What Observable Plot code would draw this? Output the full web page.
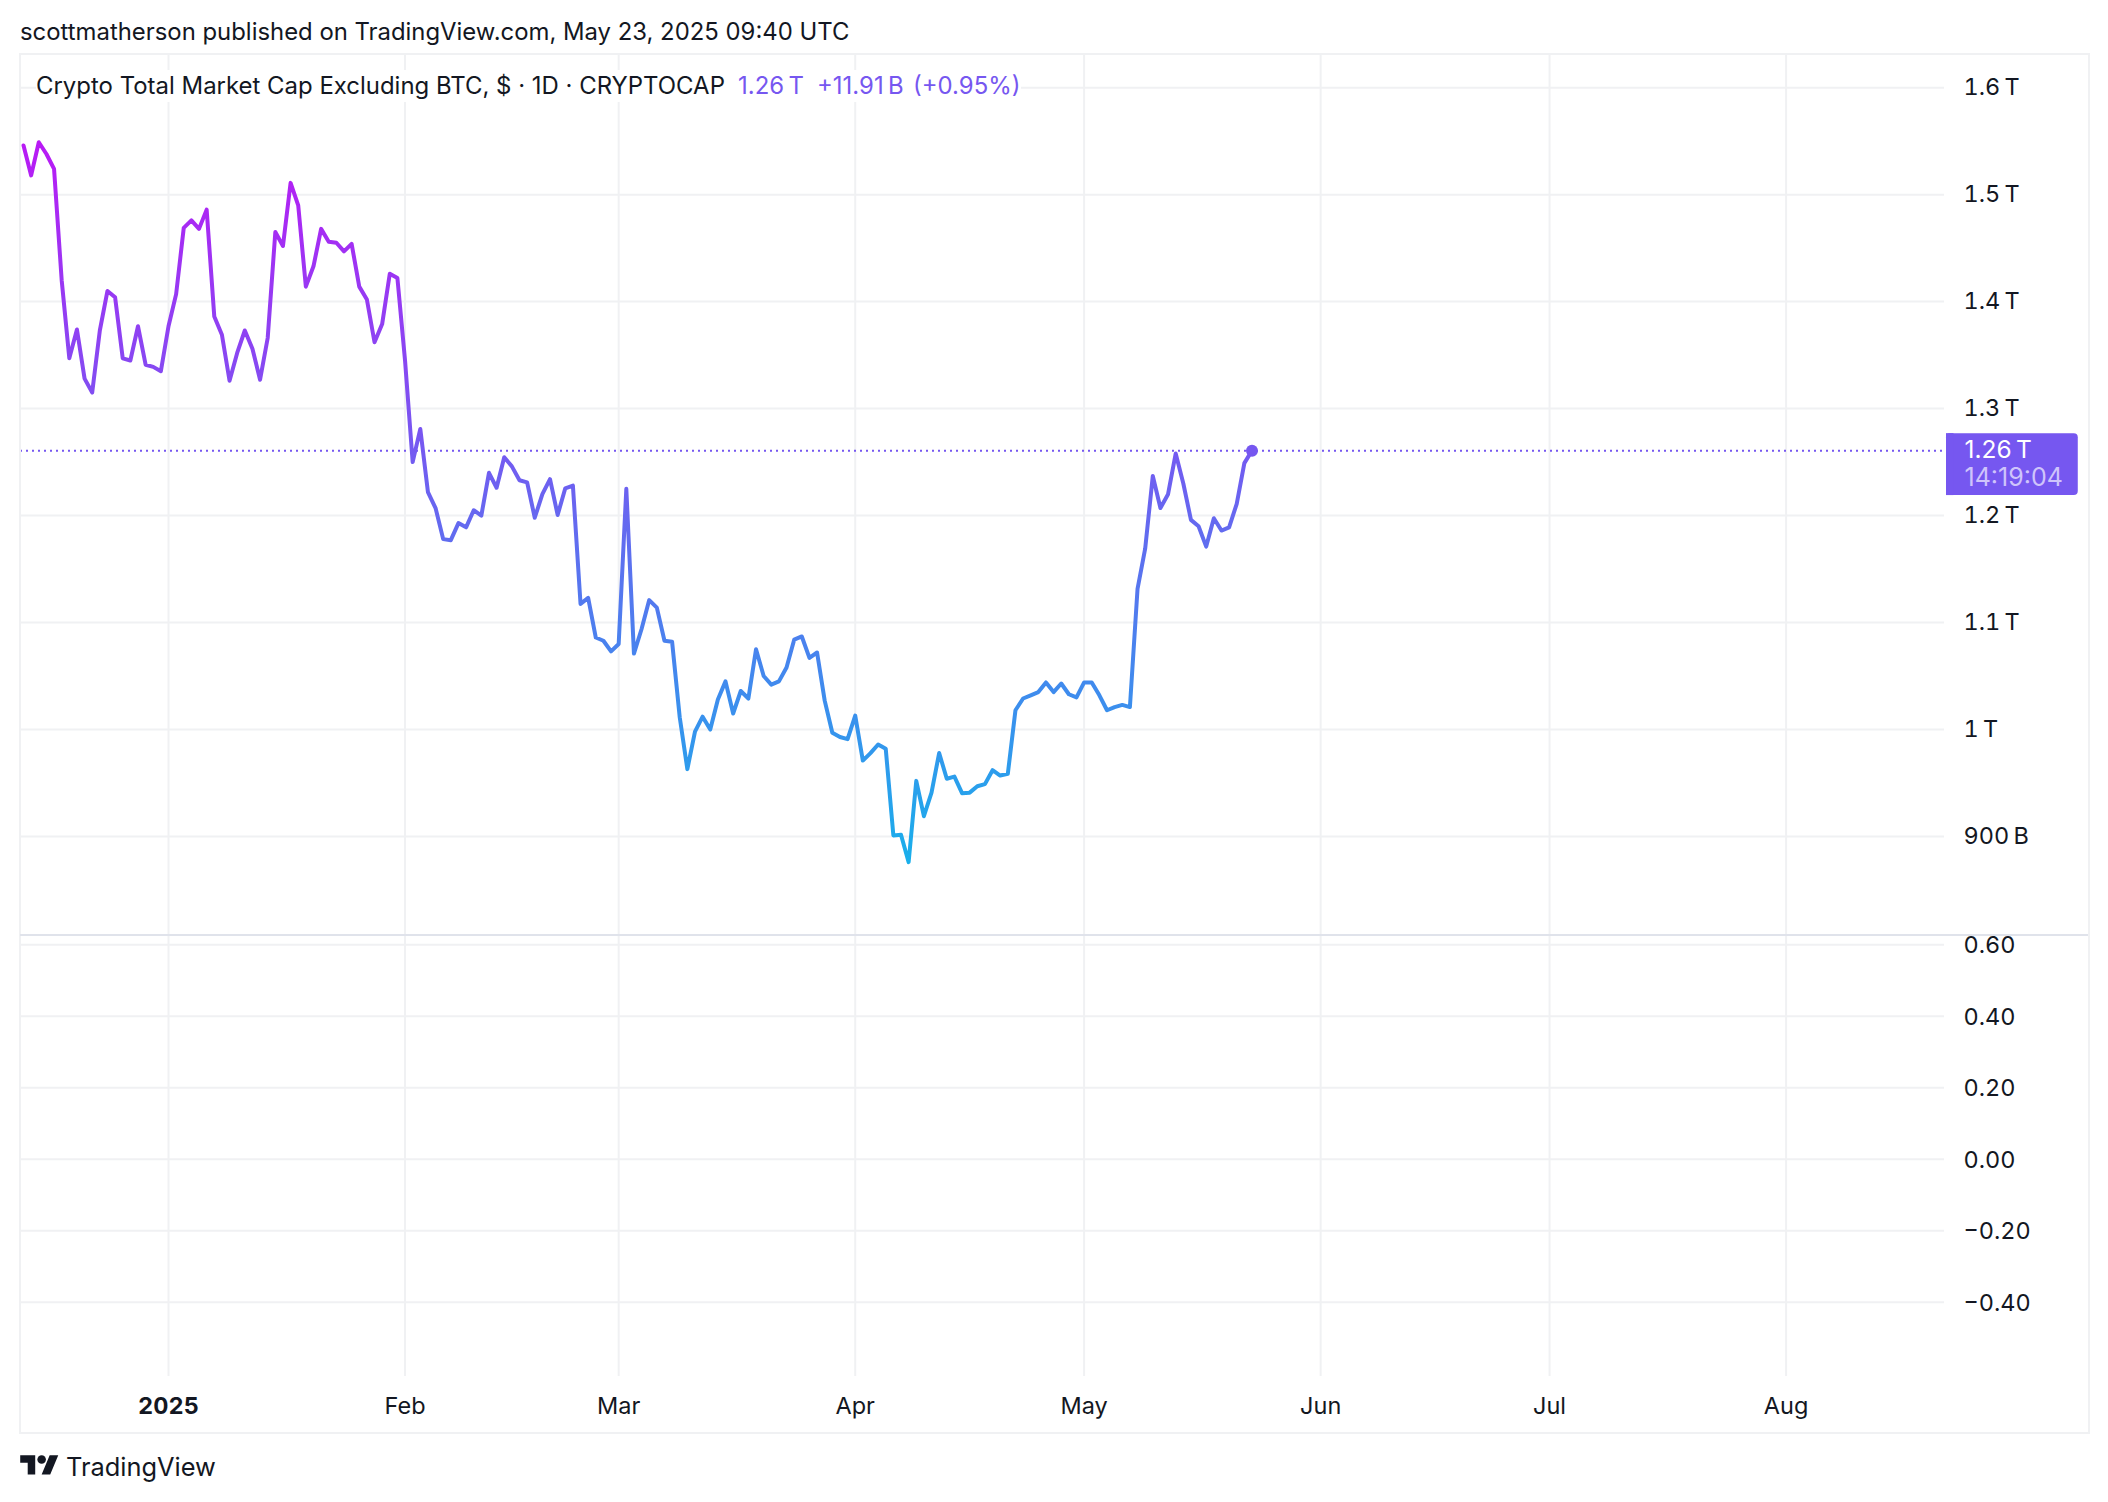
<!DOCTYPE html>
<html>
<head>
<meta charset="utf-8">
<script src="https://cdn.jsdelivr.net/npm/d3@7"></script>
<script src="https://cdn.jsdelivr.net/npm/@observablehq/plot@0.6"></script>
<style>
  html, body { margin: 0; padding: 0; background: #fff; }
  #page { position: relative; width: 2108px; height: 1502px; font-family: Inter, sans-serif; color: #131722; overflow: hidden; }
  #published { position: absolute; left: 20px; top: 17px; font-size: 23.88px; line-height: 30px; white-space: nowrap; }
  #upper, #lower { position: absolute; left: 0; }
  #upper { top: 54px; }
  #lower { top: 934px; }
  #upper svg, #lower svg { display: block; }
  #frame { position: absolute; left: 19px; top: 53px; width: 2067px; height: 1377px; border: 2px solid #f0f1f3; pointer-events: none; }
  #sep { position: absolute; left: 20px; top: 934px; width: 2068px; height: 2px; background: #e0e3eb; }
  #legend { position: absolute; left: 36px; top: 70px; width: 985px; height: 32px; line-height: 32px; background: #fff; font-size: 23.95px; white-space: nowrap; }
  #legend span { position: absolute; top: 0; color: #7657f0; }
  #footer { position: absolute; left: 20px; top: 1450px; height: 32px; display: flex; align-items: center; }
  #footer svg { width: 39px; height: 30px; }
  #footer b { font-weight: 400; font-size: 25.4px; margin-left: 7px; }
</style>
</head>
<body>
<div id="page">
  <div id="published">scottmatherson published on TradingView.com, May 23, 2025 09:40 UTC</div>
  <div id="upper"></div>
  <div id="lower"></div>
  <div id="frame"></div>
  <div id="sep"></div>
  <div id="legend">Crypto Total Market Cap Excluding BTC, $ · 1D · CRYPTOCAP<span style="left:702px">1.26&#8201;T</span><span style="left:781px">+11.91&#8201;B</span><span style="left:877px">(+0.95%)</span></div>
  <div id="footer">
    <svg viewBox="0 0 36 28"><path fill="#131722" d="M14 22H7V11H0V4h14v18zM28 22h-8l7.5-18h8L28 22z"/><circle fill="#131722" cx="20" cy="8" r="4"/></svg>
    <b>TradingView</b>
  </div>
</div>
<script>
// Daily close in trillions of USD, first value on startDate
const startDate = "2024-12-13";
const closes = [
  1.546,1.518,1.549,1.538,1.524,1.420,1.347,1.374,1.328,1.315,
  1.373,1.410,1.404,1.347,1.345,1.377,1.341,1.339,1.335,1.377,
  1.407,1.469,1.476,1.468,1.486,1.386,1.369,1.326,1.352,1.373,
  1.356,1.327,1.366,1.465,1.452,1.511,1.490,1.414,1.433,1.468,
  1.456,1.455,1.447,1.454,1.414,1.402,1.362,1.379,1.426,1.422,
  1.345,1.250,1.281,1.222,1.207,1.178,1.177,1.193,1.189,1.205,
  1.200,1.240,1.226,1.2545,1.246,1.233,1.231,1.198,1.220,1.234,
  1.2006,1.2255,1.228,1.1174,1.123,1.086,1.083,1.073,1.080,1.225,
  1.071,1.094,1.121,1.114,1.083,1.082,1.0115,0.963,0.998,1.012,
  1.000,1.028,1.045,1.015,1.036,1.029,1.075,1.050,1.042,1.045,
  1.058,1.084,1.087,1.067,1.072,1.027,0.997,0.993,0.991,1.013,
  0.971,0.978,0.986,0.982,0.901,0.9016,0.876,0.952,0.919,0.941,
  0.978,0.954,0.956,0.9405,0.941,0.947,0.949,0.962,0.957,0.9586,
  1.018,1.029,1.032,1.035,1.044,1.035,1.043,1.033,1.030,1.044,
  1.044,1.032,1.018,1.021,1.023,1.021,1.1315,1.169,1.237,1.207,
  1.220,1.258,1.230,1.196,1.190,1.171,1.1975,1.186,1.189,1.211,
  1.249,1.2607
];
const lastClose = 1.2607;
const priceTicks = [0.9, 1.0, 1.1, 1.2, 1.3, 1.4, 1.5, 1.6];
const priceLabels = ["900\u2009B", "1\u2009T", "1.1\u2009T", "1.2\u2009T", "1.3\u2009T", "1.4\u2009T", "1.5\u2009T", "1.6\u2009T"];
const lowerTicks = [0.6, 0.4, 0.2, 0, -0.2, -0.4];
const monthTicks = ["2025-02-01","2025-03-01","2025-04-01","2025-05-01","2025-06-01","2025-07-01","2025-08-01"].map(d => new Date(d));
const yearTicks = ["2025-01-01"].map(d => new Date(d));
const xDomain = [new Date("2024-12-12T14:28Z"), new Date("2025-08-21T18:14Z")];
const priceDomain = [0.8084, 1.631];
const lowerDomain = [-0.608, 0.629];
const tagEnd = new Date("2025-09-08T07:00Z");
const tagSquare = new Date("2025-08-23T00:00Z");
const tagRange = [1.2187, 1.2766];
const countdown = "14:19:04";

const start = new Date(startDate);
const rows = closes.map((close, i) => ({date: d3.utcDay.offset(start, i), close}));
const gridColor = "#f0f1f3";
const accent = "#7657f0";
const ink = "#131722";
const allTicks = [...yearTicks, ...monthTicks];
const fontStyle = {fontFamily: "Inter, sans-serif", fontSize: "23.5px", background: "transparent", overflow: "visible", color: ink};

const defs = () => {
  const d = d3.create("svg:defs");
  const g = d.append("linearGradient").attr("id", "lineGrad").attr("x1", 0).attr("x2", 0).attr("y1", 0).attr("y2", 1);
  g.append("stop").attr("offset", "0%").attr("stop-color", "#b91af5");
  g.append("stop").attr("offset", "100%").attr("stop-color", "#19afeb");
  return d.node();
};

const upper = Plot.plot({
  width: 2108, height: 880,
  marginTop: 0, marginBottom: 0, marginLeft: 20, marginRight: 164,
  style: fontStyle,
  x: {type: "utc", domain: xDomain, axis: null},
  y: {domain: priceDomain, axis: null},
  marks: [
    defs,
    Plot.gridY(priceTicks, {stroke: gridColor, strokeOpacity: 1, strokeWidth: 2}),
    Plot.gridX(allTicks, {stroke: gridColor, strokeOpacity: 1, strokeWidth: 2}),
    Plot.ruleY([lastClose], {stroke: accent, strokeWidth: 2, strokeDasharray: "2 4"}),
    Plot.line(rows, {x: "date", y: "close", stroke: "url(#lineGrad)", strokeWidth: 4}),
    Plot.dot(rows.slice(-1), {x: "date", y: "close", r: 6, fill: accent}),
    Plot.axisY(priceTicks, {anchor: "right", tickSize: 0, tickPadding: 19, dy: 0, label: null, fill: ink,
      tickFormat: v => priceLabels[priceTicks.indexOf(v)]}),
    Plot.rect([0], {x1: () => xDomain[1], x2: () => tagEnd, y1: () => tagRange[0], y2: () => tagRange[1], fill: accent, insetLeft: 2, rx: 4}),
    Plot.rect([0], {x1: () => xDomain[1], x2: () => tagSquare, y1: () => tagRange[0], y2: () => tagRange[1], fill: accent, insetLeft: 2}),
    Plot.text(["1.26\u2009T"], {x: () => xDomain[1], y: () => lastClose, dx: 20, text: d => d, textAnchor: "start", fill: "#fff", fontSize: 24.5}),
    Plot.text([countdown], {x: () => xDomain[1], y: () => lastClose, dx: 20, dy: 27, text: d => d, textAnchor: "start", fill: "#cfc4fb", fontSize: 25, letterSpacing: "1px"})
  ]
});
document.getElementById("upper").append(upper);

const lower = Plot.plot({
  width: 2108, height: 496,
  marginTop: 0, marginBottom: 54, marginLeft: 20, marginRight: 164,
  style: fontStyle,
  x: {type: "utc", domain: xDomain, axis: null},
  y: {domain: lowerDomain, axis: null},
  marks: [
    Plot.gridY(lowerTicks, {stroke: gridColor, strokeOpacity: 1, strokeWidth: 2}),
    Plot.gridX(allTicks, {stroke: gridColor, strokeOpacity: 1, strokeWidth: 2}),
    Plot.axisY(lowerTicks, {anchor: "right", tickSize: 0, tickPadding: 19, dy: 1, label: null, fill: ink,
      tickFormat: v => d3.format(".2f")(v).replace("-", "\u2212")}),
    Plot.axisX(monthTicks, {anchor: "bottom", tickSize: 0, tickPadding: 21, label: null, fill: ink, tickFormat: d3.utcFormat("%b")}),
    Plot.axisX(yearTicks, {anchor: "bottom", tickSize: 0, tickPadding: 21, label: null, fill: ink, fontWeight: 700, letterSpacing: "0.8px", tickFormat: d3.utcFormat("%Y")})
  ]
});
document.getElementById("lower").append(lower);
</script>
</body>
</html>
